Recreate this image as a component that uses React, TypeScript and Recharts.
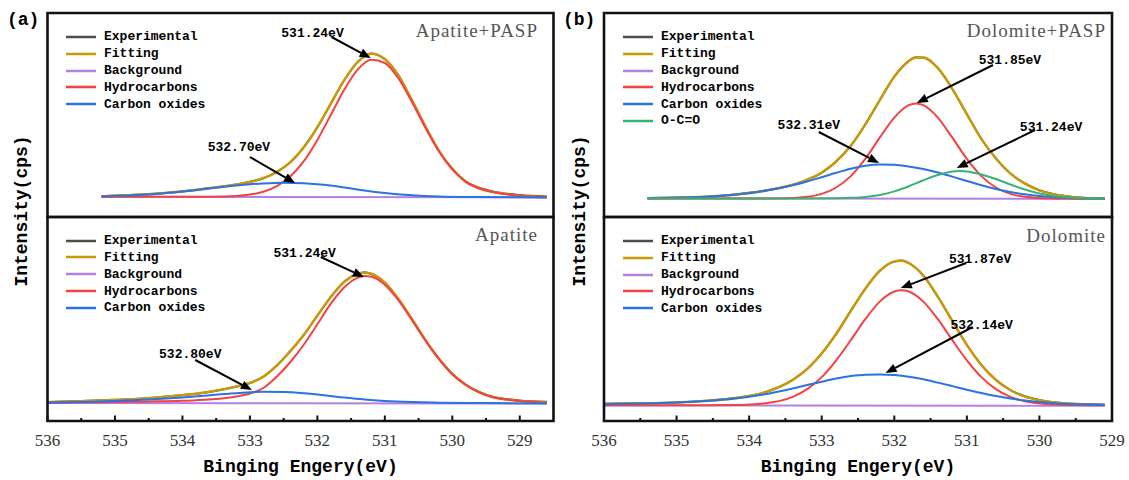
import React from 'react';
import { LineChart, Line, XAxis, YAxis, ReferenceLine, Legend } from 'recharts';

type Pt = [number, number];

// binding energy (eV), intensity (a.u.)

// (a) Apatite+PASP
const apExp: Pt[] = [[535.2, 20.8], [534.5, 22.9], [534.0, 25.6], [533.6, 28.9], [533.2, 32.4], [533.0, 35.2], [532.8, 38.7], [532.6, 45.2], [532.4, 54.7], [532.2, 69.9], [532.0, 89.6], [531.8, 113.6], [531.6, 137.0], [531.4, 155.4], [531.2, 163.6], [531.0, 157.8], [530.8, 141.9], [530.6, 116.8], [530.4, 90.9], [530.2, 66.2], [530.0, 48.3], [529.8, 35.6], [529.6, 29.2], [529.4, 25.6], [529.0, 22.0], [528.6, 20.6]];
const apFit: Pt[] = [[535.2, 20.6], [534.5, 22.7], [534.0, 25.7], [533.6, 28.8], [533.2, 32.5], [533.0, 35.0], [532.8, 38.8], [532.6, 45.0], [532.4, 54.9], [532.2, 69.7], [532.0, 89.8], [531.8, 113.4], [531.6, 137.2], [531.4, 155.2], [531.2, 163.3], [531.0, 158.0], [530.8, 141.7], [530.6, 117.1], [530.4, 90.6], [530.2, 66.4], [530.0, 48.0], [529.8, 35.3], [529.6, 28.7], [529.4, 25.1], [529.0, 21.4], [528.6, 20.0]];
const apBg: Pt[] = [[535.2, 20.2], [528.6, 19.6]];
const apHc: Pt[] = [[535.2, 20.2], [534.5, 20.2], [534.0, 20.2], [533.6, 20.3], [533.2, 21.0], [533.0, 22.4], [532.8, 25.2], [532.6, 30.8], [532.4, 40.7], [532.2, 55.9], [532.0, 77.1], [531.8, 102.2], [531.6, 127.6], [531.4, 147.7], [531.2, 157.3], [531.0, 154.0], [530.8, 138.8], [530.6, 115.3], [530.4, 89.4], [530.2, 65.8], [530.0, 47.6], [529.8, 35.1], [529.6, 28.5], [529.4, 25.0], [529.0, 21.3], [528.6, 20.0]];
const apCo: Pt[] = [[535.2, 20.4], [534.5, 22.5], [534.0, 25.5], [533.6, 28.5], [533.2, 31.5], [532.8, 33.6], [532.5, 34.3], [532.2, 33.8], [531.9, 32.2], [531.6, 29.6], [531.3, 26.5], [531.0, 24.0], [530.6, 21.8], [530.2, 20.6], [529.6, 20.0], [528.6, 19.6]];

// (a) Apatite
const aExp: Pt[] = [[536.0, 19.0], [535.5, 19.9], [535.0, 21.2], [534.5, 22.8], [534.0, 25.9], [533.6, 29.1], [533.2, 34.5], [533.0, 38.0], [532.8, 44.4], [532.6, 55.4], [532.4, 70.0], [532.2, 86.1], [532.0, 105.5], [531.8, 124.0], [531.6, 139.4], [531.4, 147.2], [531.3, 148.7], [531.2, 147.0], [531.0, 138.6], [530.8, 122.0], [530.6, 102.3], [530.4, 81.0], [530.2, 62.6], [530.0, 47.2], [529.8, 36.5], [529.6, 29.1], [529.4, 24.3], [529.2, 22.0], [529.0, 20.6], [528.6, 19.2]];
const aFit: Pt[] = [[536.0, 18.8], [535.5, 19.7], [535.0, 21.0], [534.5, 22.9], [534.0, 25.7], [533.6, 29.3], [533.2, 34.3], [533.0, 38.1], [532.8, 44.2], [532.6, 55.6], [532.4, 69.8], [532.2, 86.3], [532.0, 105.2], [531.8, 124.2], [531.6, 139.1], [531.4, 147.4], [531.3, 148.4], [531.2, 147.3], [531.0, 138.3], [530.8, 122.3], [530.6, 102.0], [530.4, 81.2], [530.2, 62.3], [530.0, 46.9], [529.8, 36.1], [529.6, 28.6], [529.4, 23.8], [529.2, 21.4], [529.0, 20.0], [528.6, 18.6]];
const aBg: Pt[] = [[536.0, 18.1], [528.6, 17.5]];
const aHc: Pt[] = [[536.0, 18.5], [535.5, 18.7], [535.0, 19.0], [534.5, 19.5], [534.0, 20.2], [533.6, 21.5], [533.2, 24.5], [533.0, 27.5], [532.8, 33.0], [532.6, 44.5], [532.4, 59.0], [532.2, 76.5], [532.0, 96.7], [531.8, 117.3], [531.6, 133.7], [531.4, 143.4], [531.3, 145.0], [531.2, 144.3], [531.0, 136.3], [530.8, 120.8], [530.6, 101.1], [530.4, 80.6], [530.2, 62.0], [530.0, 46.7], [529.8, 36.0], [529.6, 28.6], [529.4, 23.8], [529.2, 21.4], [529.0, 20.0], [528.6, 18.5]];
const aCo: Pt[] = [[536.0, 18.3], [535.5, 19.0], [535.0, 20.0], [534.5, 21.4], [534.0, 23.5], [533.6, 25.8], [533.2, 27.8], [532.8, 29.2], [532.5, 29.0], [532.2, 27.8], [531.9, 25.8], [531.6, 23.4], [531.3, 21.4], [531.0, 20.0], [530.6, 18.9], [530.2, 18.3], [529.5, 17.9], [528.6, 17.6]];

// (b) Dolomite+PASP
const dpExp: Pt[] = [[535.4, 19.0], [535.0, 19.4], [534.6, 20.1], [534.2, 22.5], [533.8, 26.2], [533.4, 32.1], [533.2, 37.4], [533.0, 44.2], [532.8, 55.7], [532.6, 71.1], [532.4, 92.6], [532.2, 116.8], [532.0, 140.5], [531.8, 155.9], [531.7, 159.7], [531.6, 159.3], [531.4, 149.1], [531.2, 128.0], [531.0, 102.9], [530.8, 78.0], [530.6, 58.7], [530.4, 43.4], [530.2, 33.6], [530.0, 26.8], [529.8, 22.8], [529.6, 20.6], [529.4, 19.3], [529.1, 18.7]];
const dpFit: Pt[] = [[535.4, 18.8], [535.0, 19.2], [534.6, 20.2], [534.2, 22.3], [533.8, 26.0], [533.4, 32.3], [533.2, 37.2], [533.0, 44.4], [532.8, 55.5], [532.6, 71.3], [532.4, 92.4], [532.2, 117.0], [532.0, 140.3], [531.8, 156.1], [531.7, 159.5], [531.6, 159.5], [531.4, 148.9], [531.2, 128.2], [531.0, 102.7], [530.8, 78.2], [530.6, 58.5], [530.4, 43.6], [530.2, 33.4], [530.0, 26.5], [529.8, 22.5], [529.6, 20.3], [529.4, 19.0], [529.1, 18.4]];
const dpBg: Pt[] = [[535.4, 18.7], [529.1, 18.0]];
const dpHc: Pt[] = [[535.4, 18.5], [534.6, 18.5], [533.8, 18.6], [533.4, 19.0], [533.2, 20.2], [533.0, 23.1], [532.8, 29.5], [532.6, 40.9], [532.4, 58.1], [532.2, 79.3], [532.0, 99.4], [531.8, 111.8], [531.7, 113.5], [531.6, 111.8], [531.4, 99.4], [531.2, 79.3], [531.0, 58.1], [530.8, 40.9], [530.6, 29.5], [530.4, 23.1], [530.2, 20.2], [530.0, 19.0], [529.8, 18.6], [529.6, 18.4], [529.1, 18.1]];
const dpCo: Pt[] = [[535.4, 18.8], [535.0, 19.2], [534.6, 20.2], [534.2, 22.3], [533.8, 26.0], [533.4, 31.8], [533.2, 35.5], [533.0, 39.8], [532.8, 44.2], [532.6, 48.2], [532.4, 51.2], [532.2, 52.6], [532.0, 52.3], [531.8, 50.6], [531.6, 48.0], [531.4, 44.5], [531.2, 40.4], [531.0, 36.0], [530.8, 31.8], [530.6, 28.0], [530.4, 25.0], [530.2, 22.7], [530.0, 21.0], [529.8, 19.9], [529.6, 19.2], [529.4, 18.7], [529.1, 18.3]];
const dpOco: Pt[] = [[535.4, 18.5], [533.4, 18.6], [532.8, 18.8], [532.6, 19.2], [532.4, 20.1], [532.2, 22.1], [532.0, 25.6], [531.8, 30.7], [531.6, 36.7], [531.4, 42.0], [531.2, 45.5], [531.1, 46.0], [531.0, 45.6], [530.8, 42.5], [530.6, 38.0], [530.4, 32.5], [530.2, 27.5], [530.0, 23.5], [529.8, 21.0], [529.6, 19.6], [529.4, 18.8], [529.1, 18.3]];

// (b) Dolomite
const dExp: Pt[] = [[536.0, 17.2], [535.5, 17.8], [535.0, 18.5], [534.6, 20.2], [534.2, 22.9], [533.8, 28.2], [533.4, 41.2], [533.2, 51.9], [533.0, 67.6], [532.8, 87.1], [532.6, 110.1], [532.4, 132.1], [532.2, 150.3], [532.0, 159.4], [531.9, 160.5], [531.8, 157.8], [531.6, 145.5], [531.4, 124.2], [531.2, 100.1], [531.0, 76.0], [530.8, 56.2], [530.6, 41.2], [530.4, 31.0], [530.2, 24.7], [530.0, 21.0], [529.8, 18.8], [529.6, 17.6], [529.4, 16.9], [529.1, 16.5]];
const dFit: Pt[] = [[536.0, 17.0], [535.5, 17.6], [535.0, 18.6], [534.6, 20.0], [534.2, 22.7], [533.8, 28.4], [533.4, 41.0], [533.2, 52.1], [533.0, 67.4], [532.8, 87.3], [532.6, 109.9], [532.4, 132.3], [532.2, 150.1], [532.0, 159.6], [531.9, 160.3], [531.8, 158.0], [531.6, 145.3], [531.4, 124.4], [531.2, 99.9], [531.0, 76.2], [530.8, 56.0], [530.6, 41.0], [530.4, 30.8], [530.2, 24.4], [530.0, 20.7], [529.8, 18.5], [529.6, 17.3], [529.4, 16.6], [529.1, 16.1]];
const dBg: Pt[] = [[536.0, 15.6], [529.1, 15.3]];
const dHc: Pt[] = [[536.0, 15.8], [534.6, 15.8], [534.2, 16.0], [533.8, 17.6], [533.4, 24.2], [533.2, 31.9], [533.0, 43.9], [532.8, 60.7], [532.6, 80.8], [532.4, 101.8], [532.2, 119.4], [532.0, 129.5], [531.9, 130.8], [531.8, 129.5], [531.6, 119.4], [531.4, 101.8], [531.2, 80.8], [531.0, 60.7], [530.8, 43.9], [530.6, 31.9], [530.4, 24.2], [530.2, 19.8], [530.0, 17.6], [529.8, 16.5], [529.6, 16.1], [529.4, 15.9], [529.1, 15.8]];
const dCo: Pt[] = [[536.0, 17.0], [535.5, 17.6], [535.0, 18.6], [534.6, 20.0], [534.2, 22.5], [533.8, 26.6], [533.4, 32.6], [533.2, 36.0], [533.0, 39.3], [532.8, 42.4], [532.6, 44.9], [532.4, 46.3], [532.2, 46.5], [532.0, 45.9], [531.8, 44.3], [531.6, 41.7], [531.4, 38.4], [531.2, 34.9], [531.0, 31.3], [530.8, 27.9], [530.6, 24.9], [530.4, 22.4], [530.2, 20.4], [530.0, 18.9], [529.8, 17.8], [529.6, 17.0], [529.4, 16.5], [529.1, 16.1]];

// every half eV gets a mark, whole eV a label
const xTicks = [536, 535.5, 535, 534.5, 534, 533.5, 533, 532.5, 532, 531.5, 531, 530.5, 530, 529.5, 529];
const seriesOrder = ['Experimental', 'Fitting', 'Background', 'Hydrocarbons', 'Carbon oxides', 'O-C=O'];

const COLORS: Record<string, string> = {
  Experimental: '#4d4d4d',
  Fitting: '#c99a06',
  Background: '#b57fe6',
  Hydrocarbons: '#f44242',
  'Carbon oxides': '#2a73e0',
  'O-C=O': '#3bb273',
};

const INK = '#111111';
const W = 1129;
const H = 480;
const MONO = '"Liberation Mono", monospace';
const SERIF = '"Liberation Serif", serif';

const toRows = (pts: Pt[]) => pts.map(([e, v]) => ({ e, v }));

const ok = (...n: any[]) => n.every((v) => typeof v === 'number' && !Number.isNaN(v));

// tick = short mark pointing into the plot, plus label on whole eV
const TickMark = (props: any) => {
  const { x, y, payload } = props;
  if (!ok(x, y)) return <g />;
  const major = Number.isInteger(payload.value);
  const len = major ? 5.5 : 3;
  return (
    <g>
      <path d={`M${x - 1},${y} h2 v${-len} h-2 Z`} fill={INK} />
      {major && (
        <text x={x} y={y + 25} textAnchor="middle" fontFamily={SERIF} fontSize={17} fill="#333">
          {payload.value}
        </text>
      )}
    </g>
  );
};

const NoteArrow = (props: any) => {
  const { x1, y1, x2, y2, note } = props;
  if (!ok(x1, y1, x2, y2)) return <g />;
  const a = Math.atan2(y2 - y1, x2 - x1);
  const len = 11;
  const half = 4.5;
  const bx = x2 - len * Math.cos(a);
  const by = y2 - len * Math.sin(a);
  const px = -Math.sin(a) * half;
  const py = Math.cos(a) * half;
  return (
    <g>
      <line x1={x1} y1={y1} x2={bx} y2={by} stroke="#000" strokeWidth={2} />
      <polygon points={`${x2},${y2} ${bx + px},${by + py} ${bx - px},${by - py}`} fill="#000" />
      <text x={x1 + note.dx} y={y1 + note.dy} textAnchor="middle" dominantBaseline="central"
        fontFamily={MONO} fontWeight="bold" fontSize={13} fill="#000">
        {note.label}
      </text>
    </g>
  );
};

const LegendBox = ({ payload }: any) => {
  const items = seriesOrder
    .map((n) => (payload || []).find((p: any) => p.value === n))
    .filter(Boolean);
  return (
    <div style={{ fontFamily: MONO, fontWeight: 'bold', fontSize: 13, color: '#000' }}>
      {items.map((it: any) => (
        <div key={it.value} style={{ display: 'flex', alignItems: 'center', height: 16.8 }}>
          <svg width={30} height={4} style={{ marginRight: 8 }}>
            <line x1={0} x2={30} y1={2} y2={2} stroke={it.color} strokeWidth={2.5} />
          </svg>
          <span>{it.value}</span>
        </div>
      ))}
    </div>
  );
};

interface Note { label: string; from: Pt; to: Pt; dx: number; dy: number }
interface Series { name: string; data: Pt[] }
interface Box { left: number; right: number; top: number; bottom: number }

interface PanelProps {
  box: Box;
  xDomain: [number, number];
  series: Series[];
  notes: Note[];
  legendAt: [number, number];
  showAxis: boolean;
}

const Panel = ({ box, xDomain, series, notes, legendAt, showAxis }: PanelProps) => {
  const margin = {
    top: box.top,
    left: box.left,
    right: W - box.right,
    bottom: H - box.bottom - (showAxis ? 1 : 0),
  };
  return (
    <div style={{ position: 'absolute', left: 0, top: 0 }}>
      <LineChart width={W} height={H} margin={margin}>
        <XAxis dataKey="e" type="number" domain={xDomain} reversed allowDataOverflow hide={!showAxis}
          height={1} ticks={xTicks} interval={0} axisLine={false} tickLine={false}
          tickSize={0} tickMargin={0} tick={<TickMark />} />
        <YAxis type="number" domain={[0, 204]} hide allowDataOverflow />
        {series.map((s) => (
          <Line key={s.name} data={toRows(s.data)} dataKey="v" name={s.name} type="monotone"
            stroke={COLORS[s.name]} strokeWidth={s.name === 'Fitting' ? 2.4 : 2}
            dot={false} activeDot={false} isAnimationActive={false} />
        ))}
        {notes.map((n) => (
          <ReferenceLine key={n.label + n.from[0]} ifOverflow="visible"
            segment={[{ x: n.from[0], y: n.from[1] }, { x: n.to[0], y: n.to[1] }]}
            shape={(p: any) => <NoteArrow {...p} note={n} />} />
        ))}
        <Legend layout="vertical" align="center" verticalAlign="middle"
          wrapperStyle={{ left: legendAt[0], top: legendAt[1], width: 'auto', height: 'auto' }}
          content={(p: any) => <LegendBox payload={p.payload} />} />
      </LineChart>
    </div>
  );
};

const leftTop: Box = { left: 47.5, right: 553.5, top: 13, bottom: 217 };
const leftBottom: Box = { left: 47.5, right: 553.5, top: 217, bottom: 421 };
const rightTop: Box = { left: 604, right: 1112, top: 13, bottom: 217 };
const rightBottom: Box = { left: 604, right: 1112, top: 217, bottom: 421 };

// a frame as a filled ring path (outer rect minus inner rect)
const framePath = (b: Box, t: number) => {
  const o = t / 2;
  const L = b.left - o, R = b.right + o, T = b.top - o, B = b.bottom + o;
  const l = b.left + o, r = b.right - o, tp = b.top + o, bt = b.bottom - o;
  return `M${L},${T} L${R},${T} L${R},${B} L${L},${B} Z M${l},${tp} L${l},${bt} L${r},${bt} L${r},${tp} Z`;
};

const App = () => {
  const leftDomain: [number, number] = [528.5, 536];
  const rightDomain: [number, number] = [529, 536];
  return (
    <div style={{ position: 'absolute', left: 0, top: 0, width: W, height: H, background: '#fff' }}>
      <Panel
        box={leftTop}
        xDomain={leftDomain}
        showAxis={false}
        legendAt={[66, 28.6]}
        series={[
          { name: 'Experimental', data: apExp },
          { name: 'Fitting', data: apFit },
          { name: 'Background', data: apBg },
          { name: 'Hydrocarbons', data: apHc },
          { name: 'Carbon oxides', data: apCo },
        ]}
        notes={[
          { label: '531.24eV', from: [531.79, 180], to: [531.21, 159], dx: -19, dy: -4 },
          { label: '532.70eV', from: [533.0, 60], to: [532.33, 34], dx: -11, dy: -10 },
        ]}
      />
      <Panel
        box={leftBottom}
        xDomain={leftDomain}
        showAxis
        legendAt={[66, 232.3]}
        series={[
          { name: 'Experimental', data: aExp },
          { name: 'Fitting', data: aFit },
          { name: 'Background', data: aBg },
          { name: 'Hydrocarbons', data: aHc },
          { name: 'Carbon oxides', data: aCo },
        ]}
        notes={[
          { label: '531.24eV', from: [531.95, 164], to: [531.31, 144], dx: -16, dy: -4 },
          { label: '532.80eV', from: [533.81, 61], to: [532.97, 31], dx: -5, dy: -6 },
        ]}
      />
      <Panel
        box={rightTop}
        xDomain={rightDomain}
        showAxis={false}
        legendAt={[623, 28.6]}
        series={[
          { name: 'Experimental', data: dpExp },
          { name: 'Fitting', data: dpFit },
          { name: 'Background', data: dpBg },
          { name: 'Hydrocarbons', data: dpHc },
          { name: 'Carbon oxides', data: dpCo },
          { name: 'O-C=O', data: dpOco },
        ]}
        notes={[
          { label: '531.85eV', from: [530.64, 152], to: [531.69, 114], dx: 17, dy: -5 },
          { label: '532.31eV', from: [533.04, 85], to: [532.21, 54], dx: -10, dy: -7 },
          { label: '531.24eV', from: [530.06, 87], to: [531.14, 49], dx: 16, dy: -3 },
        ]}
      />
      <Panel
        box={rightBottom}
        xDomain={rightDomain}
        showAxis
        legendAt={[623, 232.6]}
        series={[
          { name: 'Experimental', data: dExp },
          { name: 'Fitting', data: dFit },
          { name: 'Background', data: dBg },
          { name: 'Hydrocarbons', data: dHc },
          { name: 'Carbon oxides', data: dCo },
        ]}
        notes={[
          { label: '531.87eV', from: [531.01, 158], to: [531.91, 133], dx: 14, dy: -4 },
          { label: '532.14eV', from: [530.92, 94], to: [532.12, 48], dx: 9, dy: -2 },
        ]}
      />
      <svg width={W} height={H} style={{ position: 'absolute', left: 0, top: 0, pointerEvents: 'none' }}>
        {[leftTop, leftBottom, rightTop, rightBottom].map((b, i) => (
          <path key={i} d={framePath(b, 2.6)} fill={INK} fillRule="evenodd" />
        ))}
        <g fontFamily={MONO} fontWeight="bold" fill="#000">
          <text x={7} y={25} fontSize={18}>(a)</text>
          <text x={563} y={25} fontSize={18}>(b)</text>
          <text x={300.5} y={472} fontSize={18} textAnchor="middle">Binging Engery(eV)</text>
          <text x={858} y={472} fontSize={18} textAnchor="middle">Binging Engery(eV)</text>
          <text transform="translate(21.5,211) rotate(-90)" fontSize={18} textAnchor="middle" dominantBaseline="central">Intensity(cps)</text>
          <text transform="translate(579.5,211) rotate(-90)" fontSize={18} textAnchor="middle" dominantBaseline="central">Intensity(cps)</text>
        </g>
        <g fontFamily={SERIF} fontSize={19} fill="#555" textAnchor="end" letterSpacing={1}>
          <text x={538} y={37}>Apatite+PASP</text>
          <text x={538} y={241}>Apatite</text>
          <text x={1106} y={37}>Dolomite+PASP</text>
          <text x={1106} y={242}>Dolomite</text>
        </g>
      </svg>
    </div>
  );
};

export default App;
